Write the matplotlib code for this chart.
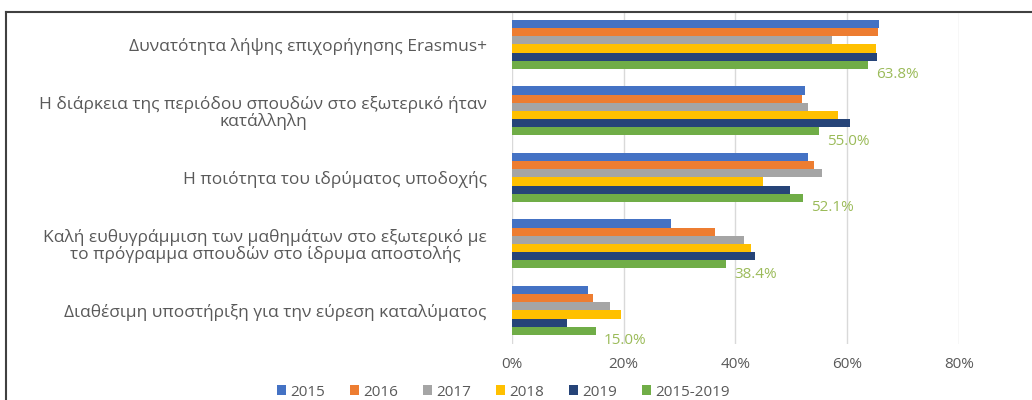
import numpy as np
import matplotlib
matplotlib.use("Agg")
import matplotlib.pyplot as plt
from matplotlib.lines import Line2D

plt.rcParams['font.family'] = ['Open Sans', 'DejaVu Sans']

categories = [
    "Δυνατότητα λήψης επιχορήγησης Erasmus+",
    "Η διάρκεια της περιόδου σπουδών στο εξωτερικό ήταν\nκατάλληλη",
    "Η ποιότητα του ιδρύματος υποδοχής",
    "Καλή ευθυγράμμιση των μαθημάτων στο εξωτερικό με\nτο πρόγραμμα σπουδών στο ίδρυμα αποστολής",
    "Διαθέσιμη υποστήριξη για την εύρεση καταλύματος",
]
series_names = ["2015", "2016", "2017", "2018", "2019", "2015-2019"]
v2015 = [0.657, 0.525, 0.531, 0.285, 0.136]
v2016 = [0.655, 0.520, 0.541, 0.364, 0.145]
v2017 = [0.573, 0.531, 0.555, 0.416, 0.175]
v2018 = [0.651, 0.584, 0.450, 0.428, 0.196]
v2019 = [0.654, 0.605, 0.498, 0.436, 0.098]
vall = [0.638, 0.550, 0.521, 0.384, 0.150]
colors = ["#4472C4", "#ED7D31", "#A5A5A5", "#FFC000", "#264478", "#70AD47"]

values = [v2015, v2016, v2017, v2018, v2019, vall]

fig = plt.figure(figsize=(10.32, 4.0), dpi=100)
ax = fig.add_axes([0.496, 0.141, 0.433, 0.831])

y = np.arange(len(categories))
h = 0.123
for i, (name, vals, c) in enumerate(zip(series_names, values, colors)):
    off = (i - 2.5) * h
    ax.barh(y + off, vals, height=h, color=c, label=name, zorder=3)

# data labels for the 2015-2019 series
for yi, v in zip(y, vall):
    ax.annotate(f"{v*100:.1f}%", xy=(v, yi + 2.5 * h), xytext=(6, -7),
                textcoords="offset points", fontsize=11, color="#9BBB59",
                va="center", ha="left")

ax.set_xlim(0, 0.8)
ax.set_ylim(len(categories) - 0.5, -0.5)
ax.set_xticks([0, 0.2, 0.4, 0.6, 0.8])
ax.set_xticklabels(["0%", "20%", "40%", "60%", "80%"])
ax.set_yticks(y)
ax.set_yticklabels(categories, multialignment="center", fontsize=12.5, linespacing=1.0)
ax.tick_params(axis="both", length=0, colors="#595959")
ax.tick_params(axis="x", labelsize=11, pad=10)
ax.tick_params(axis="y", pad=18)
ax.grid(axis="x", color="#D9D9D9", linewidth=1, zorder=0)
for s in ax.spines.values():
    s.set_visible(False)

ax.legend(loc="center", bbox_to_anchor=(0.488, 0.02), bbox_transform=fig.transFigure,
          ncol=6, frameon=False, fontsize=11, labelcolor="#595959",
          handlelength=0.6, handleheight=0.6, handletextpad=0.3, columnspacing=1.6)

# chart frame (top and left edge visible)
fig.add_artist(Line2D([6/1032, 6/1032], [0, 1 - 12/400], transform=fig.transFigure,
                      color="#404040", linewidth=1.5))
fig.add_artist(Line2D([6/1032, 1], [1 - 12/400, 1 - 12/400], transform=fig.transFigure,
                      color="#404040", linewidth=1.5))

plt.savefig("out.png", dpi=100)
